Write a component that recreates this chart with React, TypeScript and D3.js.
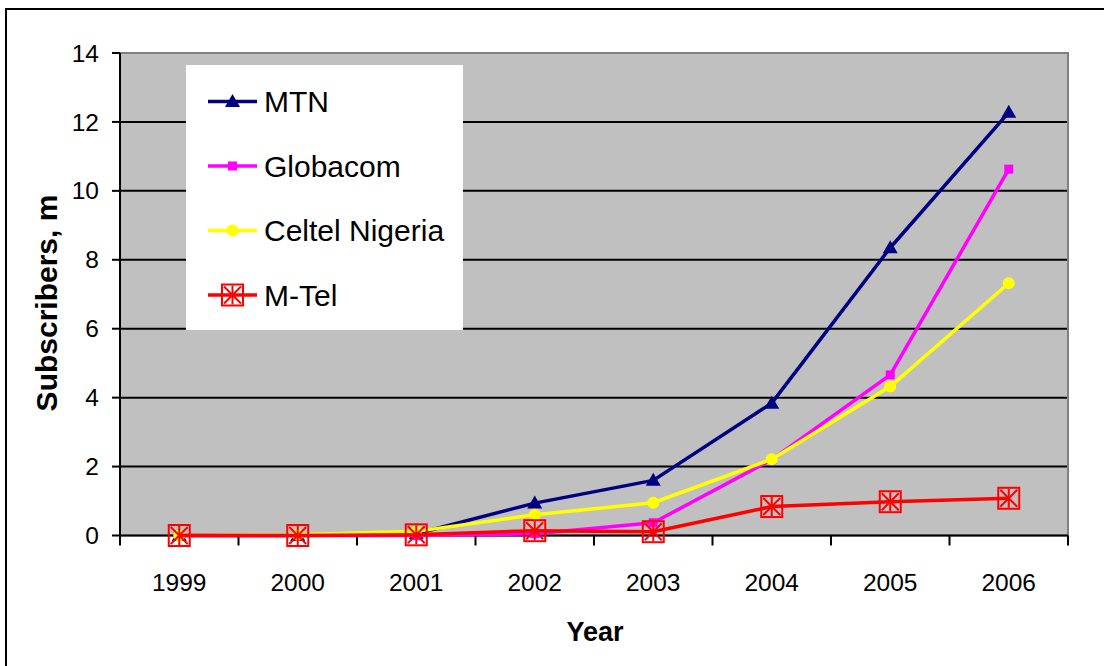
import React from "react";
import * as d3 from "d3";

const years = ["1999", "2000", "2001", "2002", "2003", "2004", "2005", "2006"];
const yTicks = [0, 2, 4, 6, 8, 10, 12, 14];
const mtn = [0, 0, 0.05, 0.94, 1.6, 3.84, 8.35, 12.28];
const globacom = [0, 0, 0, 0.05, 0.37, 2.2, 4.66, 10.63];
const celtel = [0, 0.02, 0.12, 0.6, 0.95, 2.21, 4.32, 7.32];
const mtel = [0, 0, 0.02, 0.14, 0.11, 0.84, 0.98, 1.08];

const seriesNames = ["MTN", "Globacom", "Celtel Nigeria", "M-Tel"];
const seriesColors = ["#000080", "#FF00FF", "#FFFF00", "#FF0000"];
const seriesMarkers = ["triangle", "square", "circle", "boxstar"];

const FONT = "'Liberation Sans', Arial, Helvetica, sans-serif";

function Marker({ type, color, x, y }: { type: string; color: string; x: number; y: number }) {
  if (type === "triangle") {
    return <path d={`M${x},${y - 7.5} L${x + 7.5},${y + 5.5} L${x - 7.5},${y + 5.5} Z`} fill={color} />;
  }
  if (type === "square") {
    return <rect x={x - 4.5} y={y - 4.5} width={9} height={9} fill={color} />;
  }
  if (type === "circle") {
    return <circle cx={x} cy={y} r={6} fill={color} />;
  }
  const h = 10.5;
  return (
    <g stroke={color} strokeWidth={2} fill="none">
      <rect x={x - h} y={y - h} width={2 * h} height={2 * h} />
      <line x1={x - h + 2} y1={y - h + 2} x2={x + h - 2} y2={y + h - 2} />
      <line x1={x + h - 2} y1={y - h + 2} x2={x - h + 2} y2={y + h - 2} />
      <line x1={x} y1={y - h + 1} x2={x} y2={y + h - 1} />
    </g>
  );
}

export default function App() {
  const W = 1104;
  const H = 666;
  const left = 120;
  const right = 1068;
  const top = 53;
  const bottom = 535.5;

  const x = d3.scaleBand<string>().domain(years).range([left, right]).padding(0);
  const y = d3.scaleLinear().domain([0, 14]).range([bottom, top]);
  const cx = (yr: string) => (x(yr) as number) + x.bandwidth() / 2;

  const data = [mtn, globacom, celtel, mtel];
  const line = d3
    .line<number>()
    .x((_, i) => cx(years[i]))
    .y((v) => y(v));

  const boundaries = years.map((yr) => x(yr) as number).concat([right]);

  const legendX0 = 208;
  const legendX1 = 257;
  const legendY0 = 101.5;
  const legendDy = 64.5;

  return (
    <svg
      width={W}
      height={H}
      style={{ position: "absolute", left: 0, top: 0, background: "#fff" }}
      fontFamily={FONT}
    >
      <rect x={0} y={0} width={W} height={H} fill="#fff" />
      <rect x={6} y={9} width={W + 20} height={H + 20} fill="none" stroke="#000" strokeWidth={2} />

      {/* plot area */}
      <rect x={left} y={top} width={right - left} height={bottom - top} fill="#C0C0C0" stroke="#808080" strokeWidth={2} />

      {/* gridlines */}
      {yTicks
        .filter((t) => t > 0 && t < 14)
        .map((t) => (
          <line key={t} x1={left} x2={right - 1} y1={y(t)} y2={y(t)} stroke="#000" strokeWidth={2} />
        ))}

      {/* axes */}
      <line x1={left} x2={left} y1={top} y2={bottom} stroke="#000" strokeWidth={2} />
      <line x1={left} x2={right} y1={bottom} y2={bottom} stroke="#000" strokeWidth={2} />
      {yTicks.map((t) => (
        <g key={t}>
          <line x1={left - 8} x2={left} y1={y(t)} y2={y(t)} stroke="#000" strokeWidth={2} />
          <text x={99} y={y(t)} dy="0.35em" textAnchor="end" fontSize={24.5} fill="#000">
            {t}
          </text>
        </g>
      ))}
      {boundaries.map((b, i) => (
        <line key={i} x1={b} x2={b} y1={bottom} y2={bottom + 10} stroke="#000" strokeWidth={2} />
      ))}
      {years.map((yr) => (
        <text key={yr} x={cx(yr)} y={591} textAnchor="middle" fontSize={24.5} fill="#000">
          {yr}
        </text>
      ))}

      {/* axis titles */}
      <text x={595} y={641} textAnchor="middle" fontSize={27} fontWeight="bold" fill="#000">
        Year
      </text>
      <text
        transform={`translate(57,303) rotate(-90)`}
        textAnchor="middle"
        fontSize={30}
        fontWeight="bold"
        fill="#000"
      >
        Subscribers, m
      </text>

      {/* series */}
      {data.map((vals, si) => (
        <g key={si}>
          <path d={line(vals) as string} fill="none" stroke={seriesColors[si]} strokeWidth={3.5} strokeLinejoin="round" />
          {vals.map((v, i) => (
            <Marker key={i} type={seriesMarkers[si]} color={seriesColors[si]} x={cx(years[i])} y={y(v)} />
          ))}
        </g>
      ))}

      {/* legend */}
      <rect x={186} y={65} width={277} height={265} fill="#fff" />
      {seriesNames.map((name, i) => {
        const ly = legendY0 + i * legendDy;
        return (
          <g key={name}>
            <line x1={legendX0} x2={legendX1} y1={ly} y2={ly} stroke={seriesColors[i]} strokeWidth={3.5} />
            <Marker type={seriesMarkers[i]} color={seriesColors[i]} x={(legendX0 + legendX1) / 2} y={ly} />
            <text x={264} y={ly} dy="0.36em" fontSize={30} fill="#000">
              {name}
            </text>
          </g>
        );
      })}
    </svg>
  );
}
